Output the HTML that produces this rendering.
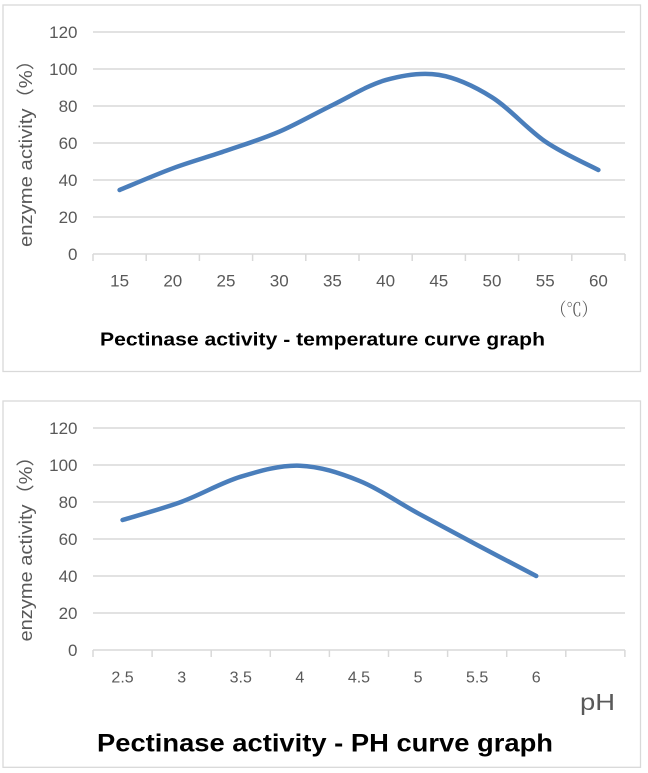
<!DOCTYPE html>
<html><head><meta charset="utf-8"><style>
html,body{margin:0;padding:0;background:#fff;}
svg{display:block;}
</style></head><body>
<svg width="648" height="773" viewBox="0 0 648 773" xmlns="http://www.w3.org/2000/svg">
<rect x="0" y="0" width="648" height="773" fill="#fff"/>
<!-- Chart 1 border -->
<rect x="3" y="5" width="637.5" height="366.5" fill="#fff" stroke="#d9d9d9" stroke-width="1.3"/>
<!-- Chart 1 gridlines -->
<g stroke="#d9d9d9" stroke-width="1.5">
<line x1="93" y1="32" x2="625" y2="32"/>
<line x1="93" y1="69" x2="625" y2="69"/>
<line x1="93" y1="106" x2="625" y2="106"/>
<line x1="93" y1="143" x2="625" y2="143"/>
<line x1="93" y1="180" x2="625" y2="180"/>
<line x1="93" y1="217" x2="625" y2="217"/>
<line x1="93" y1="254" x2="625" y2="254"/>
<line x1="93" y1="254" x2="93" y2="261"/>
<line x1="146.2" y1="254" x2="146.2" y2="261"/>
<line x1="199.4" y1="254" x2="199.4" y2="261"/>
<line x1="252.6" y1="254" x2="252.6" y2="261"/>
<line x1="305.8" y1="254" x2="305.8" y2="261"/>
<line x1="359" y1="254" x2="359" y2="261"/>
<line x1="412.2" y1="254" x2="412.2" y2="261"/>
<line x1="465.4" y1="254" x2="465.4" y2="261"/>
<line x1="518.6" y1="254" x2="518.6" y2="261"/>
<line x1="571.8" y1="254" x2="571.8" y2="261"/>
<line x1="625" y1="254" x2="625" y2="261"/>
</g>
<g font-family="Liberation Sans, sans-serif" font-size="17" fill="#595959">
<g text-anchor="end">
<text x="77.5" y="38">120</text>
<text x="77.5" y="75">100</text>
<text x="77.5" y="112">80</text>
<text x="77.5" y="149">60</text>
<text x="77.5" y="186">40</text>
<text x="77.5" y="223">20</text>
<text x="77.5" y="260">0</text>
</g>
<g text-anchor="middle">
<text x="119.6" y="286.5">15</text>
<text x="172.8" y="286.5">20</text>
<text x="226" y="286.5">25</text>
<text x="279.2" y="286.5">30</text>
<text x="332.4" y="286.5">35</text>
<text x="385.6" y="286.5">40</text>
<text x="438.8" y="286.5">45</text>
<text x="492" y="286.5">50</text>
<text x="545.2" y="286.5">55</text>
<text x="598.4" y="286.5">60</text>
</g>
</g>
<text transform="translate(32,148.5) rotate(-90)" text-anchor="middle" font-family="Liberation Sans, 'Noto Sans CJK SC', sans-serif" font-size="18" fill="#595959" textLength="197" lengthAdjust="spacingAndGlyphs">enzyme activity（%）</text>
<text x="551" y="316" font-family="'Liberation Serif','Noto Serif CJK SC',serif" font-size="18" fill="#595959" textLength="46" lengthAdjust="spacingAndGlyphs">（℃）</text>
<text x="100" y="345.5" font-family="Liberation Sans, sans-serif" font-weight="bold" font-size="18" fill="#000" textLength="445" lengthAdjust="spacingAndGlyphs">Pectinase activity - temperature curve graph</text>
<path d="M119.6,190 C128.47,186.38 155.07,174.83 172.8,168.3 C190.53,161.77 208.27,156.9 226,150.8 C243.73,144.7 261.47,139.32 279.2,131.7 C296.93,124.08 314.67,113.7 332.4,105.1 C350.13,96.5 367.87,85.13 385.6,80.1 C403.33,75.07 421.07,72.03 438.8,74.9 C456.53,77.77 474.27,86.2 492,97.3 C509.73,108.4 527.47,129.38 545.2,141.5 C562.93,153.62 589.53,165.25 598.4,170" fill="none" stroke="#4a7ebb" stroke-width="4.5" stroke-linecap="round" stroke-linejoin="round"/>

<!-- Chart 2 border -->
<rect x="3" y="401" width="637.5" height="366.3" fill="#fff" stroke="#d9d9d9" stroke-width="1.3"/>
<g stroke="#d9d9d9" stroke-width="1.5">
<line x1="93" y1="428" x2="625" y2="428"/>
<line x1="93" y1="465" x2="625" y2="465"/>
<line x1="93" y1="502" x2="625" y2="502"/>
<line x1="93" y1="539" x2="625" y2="539"/>
<line x1="93" y1="576" x2="625" y2="576"/>
<line x1="93" y1="613" x2="625" y2="613"/>
<line x1="93" y1="650" x2="625" y2="650"/>
<line x1="93" y1="650" x2="93" y2="657"/>
<line x1="152.1" y1="650" x2="152.1" y2="657"/>
<line x1="211.2" y1="650" x2="211.2" y2="657"/>
<line x1="270.3" y1="650" x2="270.3" y2="657"/>
<line x1="329.4" y1="650" x2="329.4" y2="657"/>
<line x1="388.5" y1="650" x2="388.5" y2="657"/>
<line x1="447.6" y1="650" x2="447.6" y2="657"/>
<line x1="506.7" y1="650" x2="506.7" y2="657"/>
<line x1="565.8" y1="650" x2="565.8" y2="657"/>
<line x1="624.9" y1="650" x2="624.9" y2="657"/>
</g>
<g font-family="Liberation Sans, sans-serif" font-size="17" fill="#595959">
<g text-anchor="end">
<text x="77.5" y="434">120</text>
<text x="77.5" y="471">100</text>
<text x="77.5" y="508">80</text>
<text x="77.5" y="545">60</text>
<text x="77.5" y="582">40</text>
<text x="77.5" y="619">20</text>
<text x="77.5" y="656">0</text>
</g>
<g text-anchor="middle" font-size="16">
<text x="122.55" y="682.5">2.5</text>
<text x="181.65" y="682.5">3</text>
<text x="240.75" y="682.5">3.5</text>
<text x="299.85" y="682.5">4</text>
<text x="358.95" y="682.5">4.5</text>
<text x="418.05" y="682.5">5</text>
<text x="477.15" y="682.5">5.5</text>
<text x="536.25" y="682.5">6</text>
</g>
</g>
<text transform="translate(32,544) rotate(-90)" text-anchor="middle" font-family="Liberation Sans, 'Noto Sans CJK SC', sans-serif" font-size="18" fill="#595959" textLength="195" lengthAdjust="spacingAndGlyphs">enzyme activity（%）</text>
<text x="580" y="710" font-family="Liberation Sans, sans-serif" font-size="23" fill="#595959" textLength="35" lengthAdjust="spacingAndGlyphs">pH</text>
<text x="97" y="751.5" font-family="Liberation Sans, sans-serif" font-weight="bold" font-size="25" fill="#000" textLength="456" lengthAdjust="spacingAndGlyphs">Pectinase activity - PH curve graph</text>
<path d="M122.55,520 C132.4,516.95 161.95,508.92 181.65,501.7 C201.35,494.48 221.05,482.7 240.75,476.7 C260.45,470.7 280.15,465.03 299.85,465.7 C319.55,466.37 339.25,472.77 358.95,480.7 C378.65,488.63 398.35,502.58 418.05,513.3 C437.75,524.02 457.45,534.55 477.15,545 C496.85,555.45 526.4,570.83 536.25,576" fill="none" stroke="#4a7ebb" stroke-width="4.5" stroke-linecap="round" stroke-linejoin="round"/>
</svg>
</body></html>
